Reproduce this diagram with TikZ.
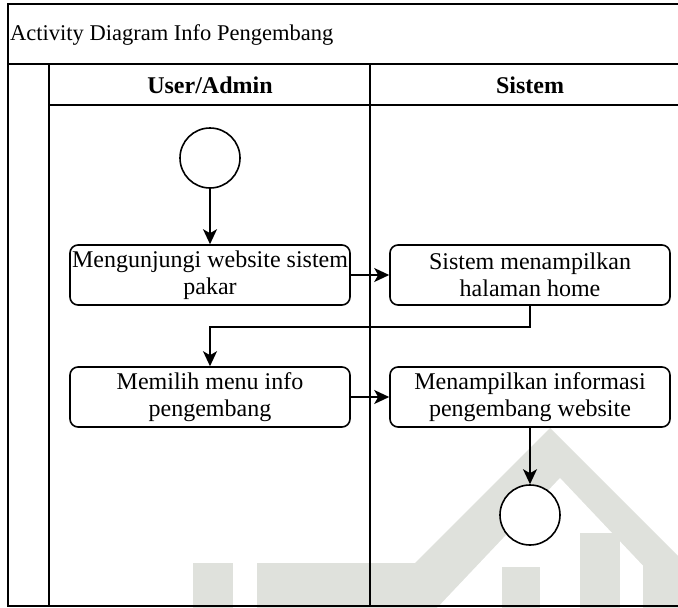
\documentclass[tikz,border=0pt]{standalone}
\usepackage{fontspec}
\setmainfont{Liberation Serif}
\usetikzlibrary{arrows.meta}
\definecolor{wm}{HTML}{DFE1DC}
\tikzset{
  lane/.style={line width=1.8pt},
  act/.style={draw, line width=1.6pt, rounded corners=8pt, fill=white,
    minimum width=280pt, minimum height=60pt, align=center, inner sep=0pt,
    font=\fontsize{24}{27.5}\selectfont},
  state/.style={draw, circle, line width=1.6pt, minimum size=60pt,
    inner sep=0pt, fill=white},
  flow/.style={line width=1.6pt, -{Stealth[length=15pt,width=14pt,inset=4pt]}},
  hdr/.style={font=\fontsize{24}{27}\selectfont\bfseries},
}
\begin{document}
\begin{tikzpicture}[x=1pt,y=-1pt]
\useasboundingbox (0,0) rectangle (678,608);
\clip (0,0) rectangle (678,608);
\fill[white] (0,0) rectangle (678,608);

% background emblem
\fill[wm] (193,563) rectangle (233,608);
\fill[wm] (257,563) -- (415,563) -- (550,428) -- (700,578) -- (700,608) -- (257,608) -- cycle;
\fill[white] (437,608) -- (560,478) -- (683,608) -- cycle;
\fill[wm] (502,567) rectangle (540,608);
\fill[wm] (580,533) rectangle (620,608);
\fill[wm] (643,560) rectangle (678,608);

% frame and swimlanes
\draw[lane] (8,4) rectangle (700,606);
\draw[lane] (8,64) -- (700,64);
\draw[lane] (49,105) -- (700,105);
\draw[lane] (49,64) -- (49,606);
\draw[lane] (370,64) -- (370,606);

\node[anchor=west, font=\fontsize{22.5}{26}\selectfont, inner sep=0pt] (title) at (10,35) {Activity Diagram Info Pengembang};
\node[hdr] (h1) at (210,85) {User/Admin};
\node[hdr] (h2) at (530,85) {Sistem};

% activities
\node[state] (start) at (210,158) {};
\node[act] (b1) at (210,275) {Mengunjungi website sistem\\pakar};
\node[act] (b2) at (530,275) {Sistem menampilkan\\halaman home};
\node[act] (b3) at (210,397) {Memilih menu info\\pengembang};
\node[act] (b4) at (530,397) {Menampilkan informasi\\pengembang website};
\node[state] (end) at (530,515) {};

% control flow
\draw[flow] (start.south) -- (b1.north);
\draw[flow] (b1.east) -- (b2.west);
\draw[flow] (b2.south) -- ++(0,21) -| (b3.north);
\draw[flow] (b3.east) -- (b4.west);
\draw[flow] (b4.south) -- (end.north);
\end{tikzpicture}
\end{document}
